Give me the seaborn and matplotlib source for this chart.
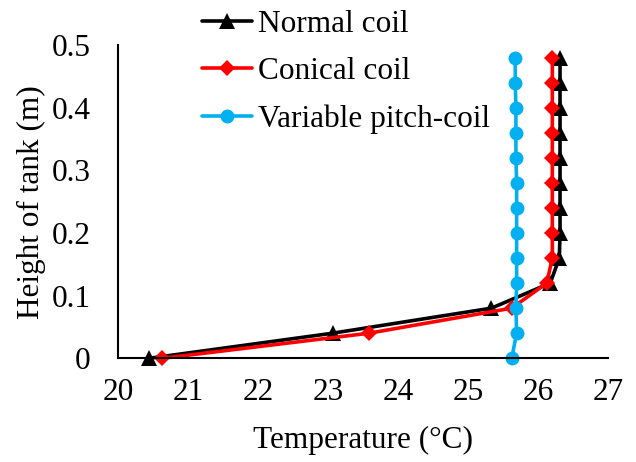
import numpy as np
import pandas as pd
import matplotlib
matplotlib.use("Agg")
import matplotlib.pyplot as plt
import seaborn as sns

heights = [0.00, 0.04, 0.08, 0.12, 0.16, 0.20, 0.24, 0.28, 0.32, 0.36, 0.40, 0.44, 0.48]
normal_coil = [20.44, 23.06, 25.33, 26.17, 26.30, 26.31, 26.31, 26.31, 26.31, 26.31, 26.31, 26.31, 26.31]
conical_coil = [20.63, 23.58, 25.62, 26.12, 26.20, 26.20, 26.20, 26.20, 26.20, 26.20, 26.20, 26.20, 26.20]
variable_pitch = [25.62, 25.69, 25.68, 25.69, 25.69, 25.69, 25.69, 25.69, 25.68, 25.68, 25.68, 25.67, 25.67]
series_names = ["Normal coil", "Conical coil", "Variable pitch-coil"]
x_ticks = [20, 21, 22, 23, 24, 25, 26, 27]
y_ticks = [0, 0.1, 0.2, 0.3, 0.4, 0.5]
y_tick_labels = ["0", "0.1", "0.2", "0.3", "0.4", "0.5"]

sns.set_style("white")
plt.rcParams['font.family'] = ['Liberation Serif', 'DejaVu Serif']
plt.rcParams['text.color'] = 'black'
plt.rcParams['axes.labelcolor'] = 'black'
FS = 22.5

fig = plt.figure(figsize=(6.36, 4.62), dpi=100)
ax = fig.add_axes([0.186, 0.2245, 0.7705, 0.678])

styles = [
    dict(color="#000000", marker="^", ms=11.5),
    dict(color="#FF0000", marker="D", ms=8.5),
    dict(color="#00B0F0", marker="o", ms=10),
]
for name, vals, st in zip(series_names, [normal_coil, conical_coil, variable_pitch], styles):
    df = pd.DataFrame({"Temperature": vals, "Height": heights})
    sns.lineplot(data=df, x="Temperature", y="Height", sort=False, estimator=None,
                 ax=ax, color=st["color"], marker=st["marker"], markersize=st["ms"],
                 markeredgewidth=0, linewidth=2.6, label=name, clip_on=False)

ax.set_xlim(20, 27)
ax.set_ylim(0, 0.5)
ax.set_xticks(x_ticks)
ax.set_xticklabels([str(t) for t in x_ticks])
ax.set_yticks(y_ticks)
ax.set_yticklabels(y_tick_labels)
ax.tick_params(axis='both', direction='in', length=7, width=1.3, labelsize=FS,
               colors='black', labelcolor='black')
ax.tick_params(axis='x', pad=14)
ax.tick_params(axis='y', pad=20)
for s in ['top', 'right']:
    ax.spines[s].set_visible(False)
for s in ['left', 'bottom']:
    ax.spines[s].set_color('black')
    ax.spines[s].set_linewidth(1.5)

ax.set_xlabel("Temperature (\u00b0C)", fontsize=FS, labelpad=14, color='black')
ax.set_ylabel("Height of tank (m)", fontsize=FS, labelpad=4, color='black')

leg = ax.legend(loc='upper left', bbox_to_anchor=(0.318, 0.978), bbox_transform=fig.transFigure,
                frameon=False, fontsize=FS, handlelength=1.6, handletextpad=0.2,
                labelspacing=0.58, borderaxespad=0, borderpad=0)
for t in leg.get_texts():
    t.set_color('black')

fig.savefig("out.png", dpi=100, facecolor="white")
